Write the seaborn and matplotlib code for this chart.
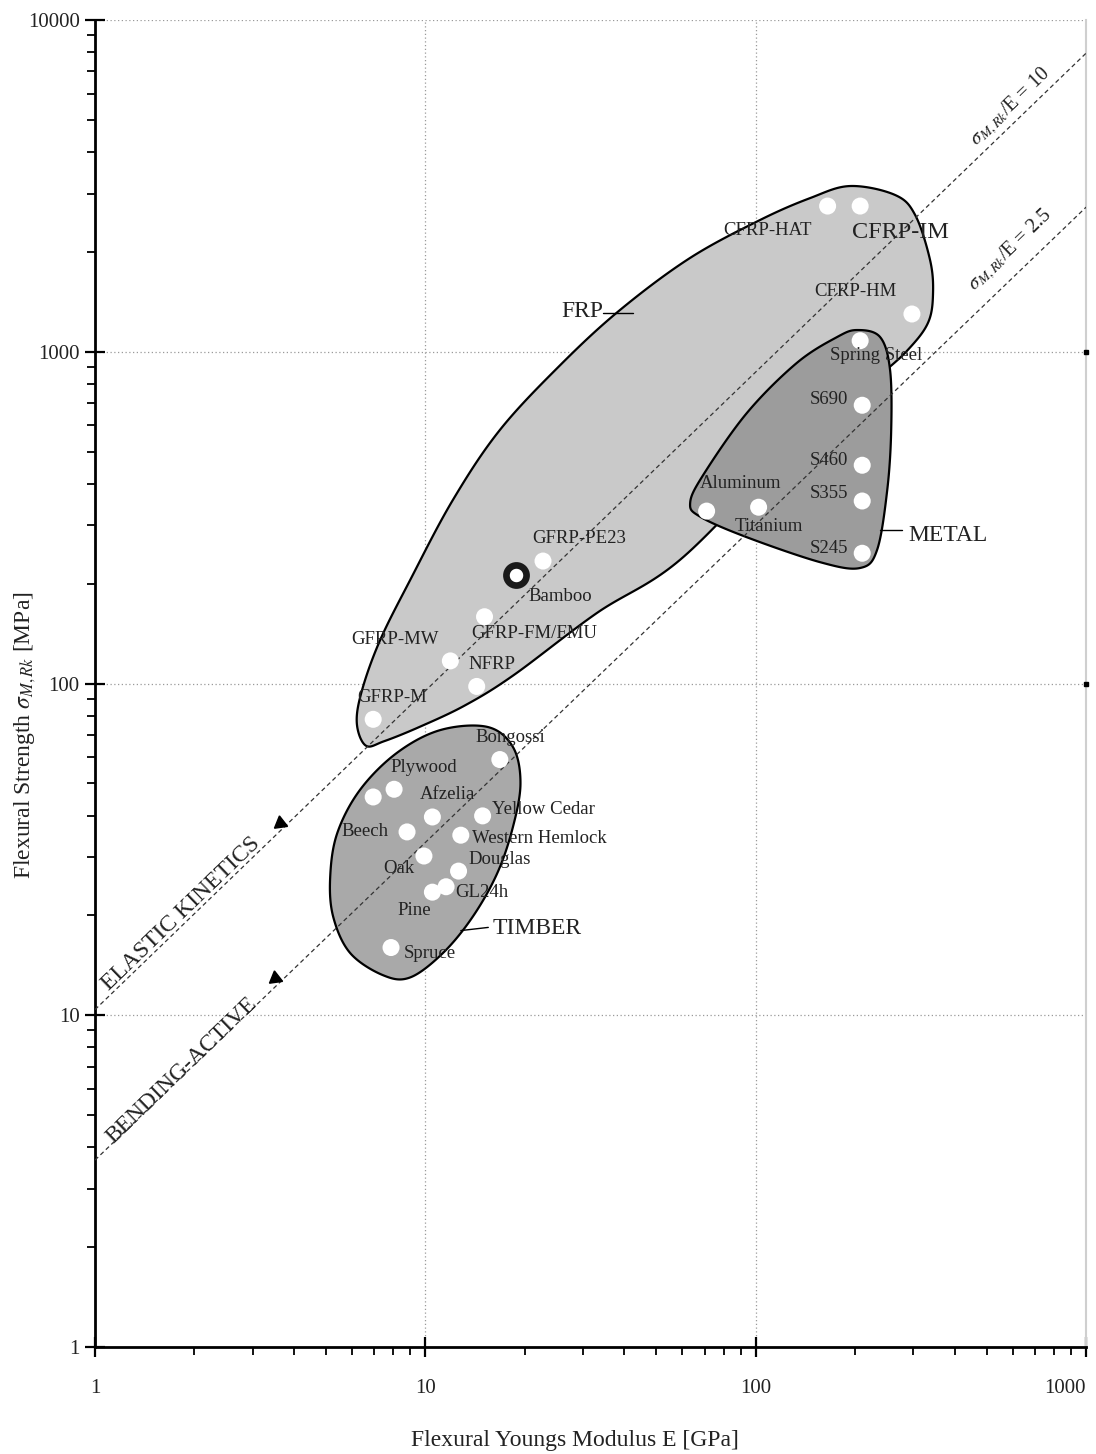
import numpy as np
import pandas as pd
import matplotlib
matplotlib.use("Agg")
import matplotlib.pyplot as plt
import seaborn as sns
from matplotlib.ticker import LogLocator, NullFormatter, FixedLocator

# ---------------------------------------------------------------- data
# Fibre reinforced polymers
frp_names = ["CFRP-HAT", "CFRP-IM", "CFRP-HM", "GFRP-PE23", "GFRP-FM/FMU",
             "GFRP-MW", "NFRP", "GFRP-M"]
frp_E = [165, 207, 297, 22.7, 15.1, 11.9, 14.3, 6.95]          # GPa
frp_sigma = [2750, 2750, 1300, 234, 159, 117, 98, 78]           # MPa

# Bamboo
bamboo_E = [18.8]
bamboo_sigma = [212]

# Metals
metal_names = ["Spring Steel", "S690", "S460", "S355", "S245", "Aluminum", "Titanium"]
metal_E = [207, 210, 210, 210, 210, 71, 102]
metal_sigma = [1080, 690, 455, 355, 247, 331, 340]

# Timber
timber_names = ["", "Plywood", "Beech", "Afzelia", "Yellow Cedar", "Western Hemlock",
                "Oak", "Douglas", "Pine", "GL24h", "Spruce", "Bongossi"]
timber_E = [6.95, 8.04, 8.8, 10.5, 14.9, 12.8, 9.9, 12.6, 10.5, 11.55, 7.87, 16.8]
timber_sigma = [45.5, 48, 35.7, 39.6, 39.9, 34.9, 30.2, 27.2, 23.5, 24.4, 16.0, 59]

# Group envelopes (outline vertices, E [GPa], sigma [MPa])
frp_env_E = [193, 264, 304, 337, 344, 333, 293, 238, 127, 59, 33, 18.5, 13.2, 9.6,
             7.5, 6.6, 6.2, 6.43, 7.29, 8.99, 12.1, 16.8, 25.6, 38.8, 63.2, 103, 146]
frp_env_sigma = [3160, 2970, 2580, 1890, 1500, 1230, 1030, 851, 506, 236, 163, 106, 86,
                 74, 67, 65, 76, 95.5, 135, 205, 357, 581, 912, 1336, 1917, 2496, 2906]

metal_env_E = [203, 238, 255, 257, 250, 233, 207, 157, 94, 68, 63.3, 69.3, 94, 133, 176]
metal_env_sigma = [1163, 1107, 881, 581, 383, 253, 223, 232, 276, 318, 350, 425, 654,
                   925, 1107]

timber_env_E = [15.4, 18.4, 19.4, 18.4, 16.5, 13.9, 11.3, 8.99, 7.45, 5.92, 5.26, 5.15,
                5.41, 6.34, 8.2, 11.1]
timber_env_sigma = [74, 64.4, 50.1, 36.9, 26.8, 19.8, 15.4, 13.0, 13.2, 15.4, 19.8,
                    26.1, 35.4, 47.8, 61.8, 72.4]

# Reference lines sigma/E (end points at E = 1 and E = 1000)
line_E = [1, 1000]
elastic_sigma = [10.4, 7950]
bending_sigma = [3.66, 2730]

x_ticks = [1, 10, 100, 1000]
y_ticks = [1, 10, 100, 1000, 10000]

# ---------------------------------------------------------------- label placement
# (dx, dy) in pixels from the marker, horizontal alignment
label_pos = {
    "CFRP-HAT": (-104, -24, "left"), "CFRP-IM": (-8, -26, "left"),
    "CFRP-HM": (-98, 22, "left"), "GFRP-PE23": (-11, 23, "left"),
    "GFRP-FM/FMU": (-13, -17, "left"), "GFRP-MW": (-12, 21, "right"),
    "NFRP": (-8, 22, "left"), "GFRP-M": (-16, 22, "left"),
    "Spring Steel": (-30, -15, "left"), "S690": (-14, 6, "right"),
    "S460": (-14, 5, "right"), "S355": (-14, 7, "right"), "S245": (-14, 5, "right"),
    "Aluminum": (-7, 28, "left"), "Titanium": (-24, -19, "left"),
    "Bongossi": (-24, 22, "left"), "Plywood": (-4, 22, "left"),
    "Afzelia": (-13, 22, "left"), "Beech": (-19, 0, "right"),
    "Yellow Cedar": (9, 6, "left"), "Western Hemlock": (11, -3, "left"),
    "Douglas": (10, 12, "left"), "Oak": (-9, -12, "right"), "GL24h": (9, -6, "left"),
    "Pine": (-1, -18, "right"), "Spruce": (13, -6, "left"),
}

# ---------------------------------------------------------------- helpers
def smooth_closed(xs, ys, n=24):
    """Closed Catmull-Rom curve through the vertices, computed in log-log space."""
    P = np.column_stack([np.log10(xs), np.log10(ys)])
    m = len(P)
    t = np.linspace(0, 1, n, endpoint=False)[:, None]
    segs = []
    for i in range(m):
        p0, p1, p2, p3 = P[i - 1], P[i], P[(i + 1) % m], P[(i + 2) % m]
        segs.append(0.5 * (2 * p1 + (-p0 + p2) * t
                           + (2 * p0 - 5 * p1 + 4 * p2 - p3) * t ** 2
                           + (-p0 + 3 * p1 - 3 * p2 + p3) * t ** 3))
    S = np.vstack(segs)
    return 10 ** S[:, 0], 10 ** S[:, 1]


def on_line(E, xs, ys):
    return 10 ** np.interp(np.log10(E), np.log10(xs), np.log10(ys))

# ---------------------------------------------------------------- figure
sns.set_theme(style="white")
plt.rcParams["font.family"] = ["Liberation Serif", "DejaVu Serif"]
plt.rcParams["mathtext.fontset"] = "stix"

TXT = "#222222"
fig = plt.figure(figsize=(10.96, 14.54), dpi=100)
ax = fig.add_axes([0.0867, 0.0736, 0.9043, 0.9126])
ax.set_xscale("log")
ax.set_yscale("log")
ax.set_xlim(1, 1000)
ax.set_ylim(1, 10000)

# grid
for v in x_ticks[1:-1]:
    ax.axvline(v, color="#9a9a9a", lw=0.9, ls=(0, (1, 2)), zorder=0)
for v in y_ticks[1:]:
    ax.axhline(v, color="#9a9a9a", lw=0.9, ls=(0, (1, 2)), zorder=0)
ax.plot([x_ticks[-1]] * 2, y_ticks[2:4], ls="none", marker="s", ms=3.5,
        color="black", clip_on=False, zorder=6)

# envelopes
for ex, ey, fc, z in [(frp_env_E, frp_env_sigma, "#c9c9c9", 2),
                      (metal_env_E, metal_env_sigma, "#9c9c9c", 3),
                      (timber_env_E, timber_env_sigma, "#a9a9a9", 3)]:
    sx, sy = smooth_closed(ex, ey)
    ax.fill(sx, sy, facecolor=fc, edgecolor="black", lw=1.6, zorder=z)

# reference lines
for ys in (elastic_sigma, bending_sigma):
    ax.plot(line_E, ys, color="#333333", lw=0.9, ls=(0, (3.5, 2.5)), zorder=4)

# material points
pts = pd.DataFrame({
    "E": frp_E + metal_E + timber_E,
    "sigma": frp_sigma + metal_sigma + timber_sigma,
    "name": frp_names + metal_names + timber_names,
})
sns.scatterplot(data=pts, x="E", y="sigma", color="white", s=150, linewidth=0,
                edgecolor="none", ax=ax, zorder=5, legend=False)
sns.scatterplot(x=bamboo_E, y=bamboo_sigma, color="white", s=210, linewidth=4.8,
                edgecolor="#1a1a1a", ax=ax, zorder=5, legend=False)

for _, r in pts.iterrows():
    if r["name"] in label_pos:
        dx, dy, ha = label_pos[r["name"]]
        fs = 17.5 if r["name"] == "CFRP-IM" else 13.5
        ax.annotate(r["name"], (r["E"], r["sigma"]), xytext=(dx, dy),
                    textcoords="offset pixels", ha=ha, va="center",
                    fontsize=fs, color=TXT, zorder=7)
ax.annotate("Bamboo", (bamboo_E[0], bamboo_sigma[0]), xytext=(12, -21),
            textcoords="offset pixels", ha="left", va="center",
            fontsize=13.5, color=TXT, zorder=7)

# group labels with leader lines
ax.text(25.8, 1327, "FRP", fontsize=17, ha="left", va="center", color=TXT, zorder=7)
ax.plot([34.5, 42.5], [1310, 1310], color="black", lw=1, zorder=7)
ax.text(289, 280, "METAL", fontsize=17, ha="left", va="center", color=TXT, zorder=7)
ax.plot([238, 277], [290, 290], color="black", lw=1, zorder=7)
ax.text(16.0, 18.2, "TIMBER", fontsize=17, ha="left", va="center", color=TXT, zorder=7)
ax.plot([12.8, 15.5], [18.0, 18.4], color="black", lw=1, zorder=7)

# line annotations
fig.canvas.draw()
p1 = ax.transData.transform((line_E[0], elastic_sigma[0]))
p2 = ax.transData.transform((line_E[1], elastic_sigma[1]))
ang = np.degrees(np.arctan2(p2[1] - p1[1], p2[0] - p1[0]))

ax.text(1.82, 20.2, "ELASTIC KINETICS", rotation=ang, rotation_mode="anchor",
        ha="center", va="center", fontsize=17, color=TXT, zorder=7)
ax.text(1.83, 6.84, "BENDING-ACTIVE", rotation=ang, rotation_mode="anchor",
        ha="center", va="center", fontsize=17, color=TXT, zorder=7)
ax.text(589, 5470, r"$\sigma_{M,Rk}$/E = 10", rotation=ang, rotation_mode="anchor",
        ha="center", va="center", fontsize=14.5, color=TXT, zorder=7)
ax.text(589, 2027, r"$\sigma_{M,Rk}$/E = 2.5", rotation=ang, rotation_mode="anchor",
        ha="center", va="center", fontsize=14.5, color=TXT, zorder=7)

for ys, E0 in ((elastic_sigma, 3.63), (bending_sigma, 3.51)):
    ax.plot([E0], [on_line(E0, line_E, ys) * 1.06], marker=(3, 0, 8),
            ms=11, color="black", zorder=7)

# axes styling
ax.spines["top"].set_visible(False)
ax.spines["right"].set_color("#cfcfcf")
ax.spines["right"].set_linewidth(1.5)
for side in ("left", "bottom"):
    ax.spines[side].set_color("black")
    ax.spines[side].set_linewidth(2)

ax.xaxis.set_major_locator(FixedLocator(x_ticks))
ax.yaxis.set_major_locator(FixedLocator(y_ticks))
ax.set_xticklabels([str(v) for v in x_ticks])
ax.set_yticklabels([str(v) for v in y_ticks])
ax.xaxis.set_minor_locator(LogLocator(base=10, subs=np.arange(2, 10)))
ax.yaxis.set_minor_locator(LogLocator(base=10, subs=np.arange(2, 10)))
ax.xaxis.set_minor_formatter(NullFormatter())
ax.yaxis.set_minor_formatter(NullFormatter())
ax.tick_params(which="major", direction="inout", length=14, width=1.6,
               colors="black", labelsize=15, labelcolor=TXT)
ax.tick_params(which="minor", direction="out", length=6, width=1.3, colors="black")
ax.tick_params(axis="x", which="both", bottom=True, top=False, pad=16)
ax.tick_params(axis="y", which="both", left=True, right=False, pad=4)
ax.get_xticklabels()[-1].set_horizontalalignment("right")

ax.set_xlabel("Flexural Youngs Modulus E [GPa]", fontsize=17, color=TXT, va="center")
ax.set_ylabel(r"Flexural Strength $\sigma_{M,Rk}$ [MPa]", fontsize=17, color=TXT,
              va="center")
ax.xaxis.set_label_coords(0.484, -0.0705)
ax.yaxis.set_label_coords(-0.0705, 0.461)

fig.savefig("out.png", dpi=100)
